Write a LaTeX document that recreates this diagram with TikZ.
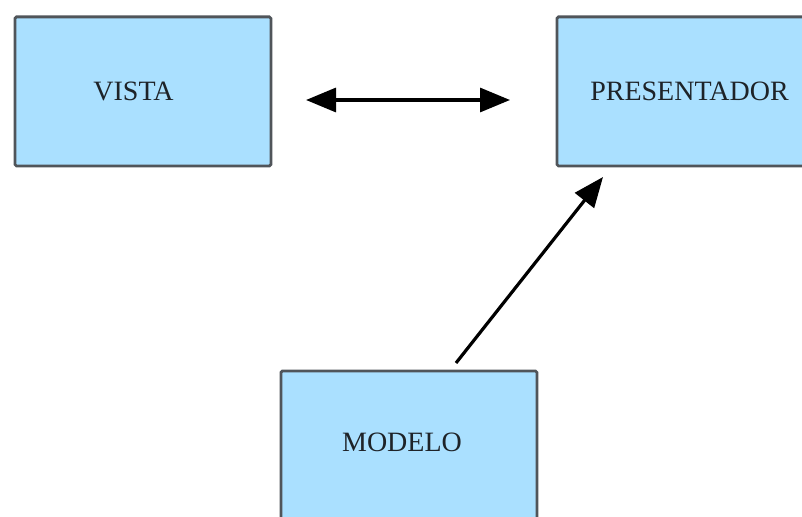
\documentclass[tikz,border=0pt]{standalone}
\usepackage{fontspec}
\setmainfont{Liberation Serif}
\usetikzlibrary{arrows.meta}
\definecolor{boxfill}{RGB}{170,224,255}
\definecolor{boxline}{RGB}{80,85,90}
\definecolor{boxtext}{RGB}{30,35,40}
\begin{document}
\begin{tikzpicture}[x=1pt,y=-1pt,
  block/.style={draw=boxline,line width=2.8pt,fill=boxfill,rounded corners=1.5pt,
    minimum width=256pt,minimum height=149pt,inner sep=0pt,anchor=north west},
  label/.style={text=boxtext,font=\fontsize{28}{32}\selectfont,inner sep=0pt},
  tip/.style={Triangle[length=30pt,width=24pt]},
  link/.style={line width=3.2pt,black,-{Triangle[length=30pt,width=24pt]}},
  link2/.style={line width=3.2pt,black,{Triangle[length=30pt,width=24pt]}-{Triangle[length=30pt,width=24pt]}}]
  \useasboundingbox (0,0) rectangle (802,516);
  % the three parts of the pattern
  \node[block] (vista) at (13.5,15.5) {};
  \node[label] (vistatext) at (133.5,91) {VISTA};
  \node[block] (pres) at (555.5,15.5) {};
  \node[label] (prestext) at (689.5,91) {PRESENTADOR};
  \node[block] (modelo) at (279.5,369.5) {};
  \node[label] (modelotext) at (402,442) {MODELO};
  % connectors
  \coordinate (dl) at (306,100);
  \coordinate (dr) at (510,100);
  \coordinate (ms) at (456,363);
  \coordinate (pe) at (603,177);
  \draw[link2] (dl) -- (dr);
  \draw[link] (ms) -- (pe);
\end{tikzpicture}
\end{document}
